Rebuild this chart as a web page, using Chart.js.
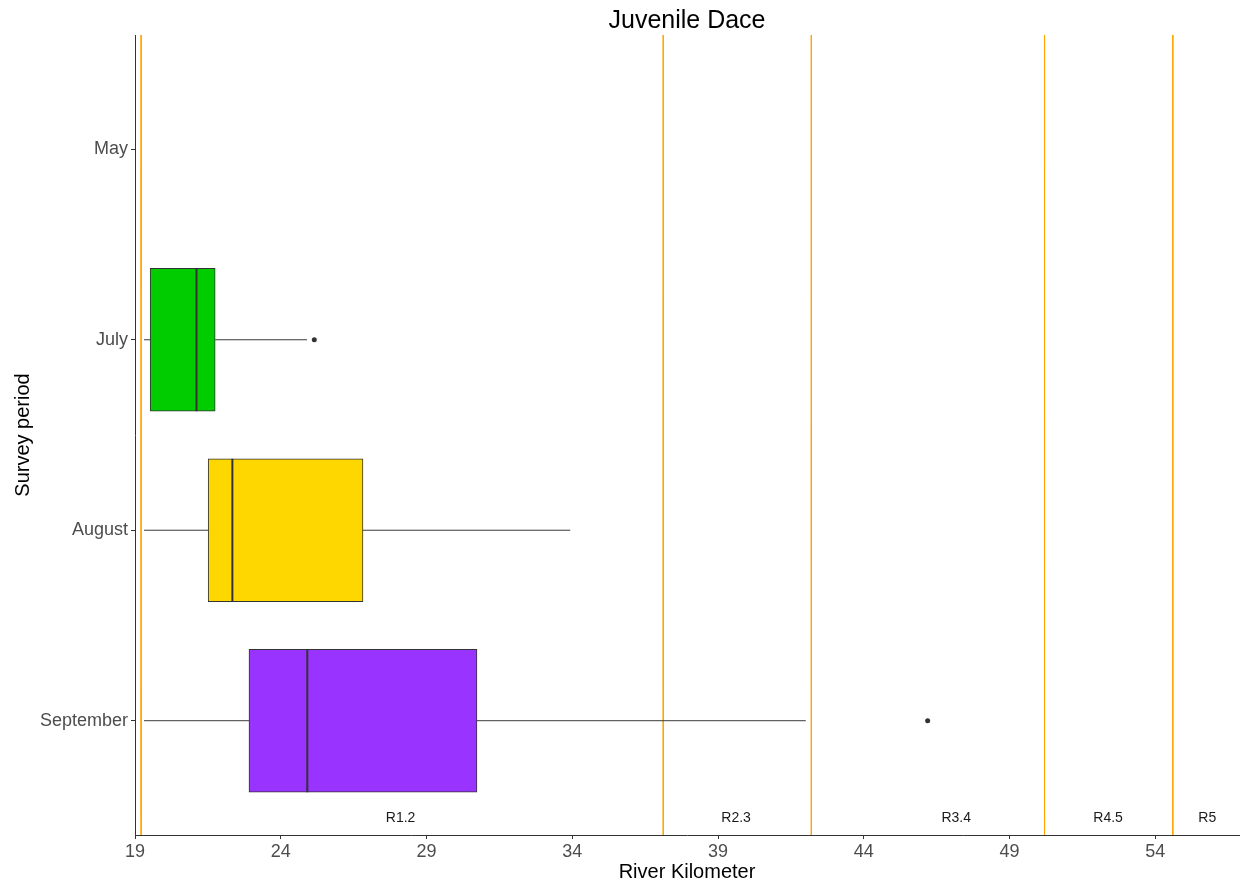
<!DOCTYPE html>
<html><head><meta charset="utf-8">
<script src="https://cdn.jsdelivr.net/npm/chart.js@4"></script>
<style>html,body{margin:0;padding:0;background:#fff;overflow:hidden}#wrap{width:1243px;height:883px;position:relative;overflow:hidden}canvas{display:block}</style>
</head><body><div id="wrap"><canvas id="c"></canvas></div>
<script>
// ---- data ----
const categories = ['May', 'July', 'August', 'September'];
const lowerWhisker = [null, 19.31, 19.31, 19.31];
const q1 = [null, 19.52, 21.51, 22.91];
const median = [null, 21.11, 22.34, 24.91];
const q3 = [null, 21.75, 26.82, 30.73];
const upperWhisker = [null, 24.90, 33.93, 42.01];
const outlierCategory = ['July', 'September'];
const outlierKm = [25.15, 46.19];
const boxColors = ['#cccccc', '#00CC00', '#FFD700', '#9933FF'];
const reachBoundaries = [19.21, 37.12, 42.20, 50.20, 54.60];
const reachLabels = ['R1.2', 'R2.3', 'R3.4', 'R4.5', 'R5'];
const reachLabelKm = [28.11, 39.62, 47.17, 52.38, 55.78];
const xTicks = [19, 24, 29, 34, 39, 44, 49, 54];

// ---- styles ----
const FONT = "'Liberation Sans', Arial, sans-serif";
const BOX_HALF = 0.375;      // half box height in category units
const Y_MIN = 0.4, Y_MAX = 4.6;
const X_MIN = 19, X_MAX = 56.87;

const datasets = [];
const catIdx = c => categories.indexOf(c) + 1;

// boxes
datasets.push({
  type: 'bar', indexAxis: 'y', order: 3,
  data: categories.map((c, i) => q1[i] == null ? null : { y: i + 1, x: [q1[i], q3[i]] }).filter(d => d),
  backgroundColor: categories.map((c, i) => boxColors[i]).filter((c, i) => q1[i] != null),
  borderColor: '#333333', borderWidth: 1, borderSkipped: false, barThickness: 143
});
// whiskers & medians
categories.forEach((c, i) => {
  if (q1[i] == null) return;
  const y = i + 1;
  const lineBase = { type: 'line', pointRadius: 0, fill: false, tension: 0 };
  datasets.push(Object.assign({}, lineBase, { order: 2, borderColor: '#3a3a3a', borderWidth: 1,
    data: [{ x: lowerWhisker[i], y }, { x: q1[i], y }] }));
  datasets.push(Object.assign({}, lineBase, { order: 2, borderColor: '#3a3a3a', borderWidth: 1,
    data: [{ x: q3[i], y }, { x: upperWhisker[i], y }] }));
  datasets.push(Object.assign({}, lineBase, { order: 0, borderColor: '#333333', borderWidth: 2,
    data: [{ x: median[i], y: y - BOX_HALF }, { x: median[i], y: y + BOX_HALF }] }));
});
// outliers
datasets.push({
  type: 'scatter', order: 1,
  data: outlierKm.map((v, i) => ({ x: v, y: catIdx(outlierCategory[i]) })),
  pointRadius: 2.5, pointBackgroundColor: '#333333', pointBorderWidth: 0
});
// reach boundaries
reachBoundaries.forEach(b => {
  datasets.push({ type: 'line', order: 10, pointRadius: 0, borderColor: '#FFA500', borderWidth: 1,
    data: [{ x: b, y: Y_MIN }, { x: b, y: Y_MAX }] });
});

const reachLabelPlugin = {
  id: 'reachLabels',
  afterDatasetsDraw(chart) {
    const { ctx, chartArea, scales } = chart;
    ctx.save();
    ctx.font = '14px ' + FONT;
    ctx.fillStyle = '#1a1a1a';
    ctx.textAlign = 'center';
    ctx.textBaseline = 'middle';
    reachLabels.forEach((t, i) => {
      ctx.fillText(t, scales.x.getPixelForValue(reachLabelKm[i]), chartArea.bottom - 17);
    });
    ctx.restore();
  }
};

new Chart(document.getElementById('c'), {
  type: 'bar',
  data: { datasets },
  plugins: [reachLabelPlugin],
  options: {
    responsive: true, maintainAspectRatio: false, animation: false,
    indexAxis: 'y',
    layout: { padding: 0 },
    plugins: {
      legend: { display: false }, tooltip: { enabled: false },
      title: { display: true, text: 'Juvenile Dace', fullSize: false, color: '#000',
        font: { family: FONT, size: 25, weight: 'normal' }, padding: { top: 6, bottom: -1 } }
    },
    scales: {
      x: {
        type: 'linear', position: 'bottom', min: X_MIN, max: X_MAX, offset: false, beginAtZero: false,
        afterBuildTicks: s => { s.ticks = xTicks.map(v => ({ value: v })); },
        afterFit: s => { s.height = 48; s.paddingLeft = 0; s.paddingRight = 0; },
        ticks: { color: '#4d4d4d', font: { family: FONT, size: 18 }, padding: 2, autoSkip: false, maxRotation: 0 },
        grid: { display: true, drawOnChartArea: false, drawTicks: true, tickLength: 4, tickColor: '#333333', offset: false },
        border: { display: true, color: '#333333', width: 1 },
        title: { display: true, text: 'River Kilometer', color: '#000', font: { family: FONT, size: 20 }, padding: { top: 0, bottom: -1 } }
      },
      y: {
        type: 'linear', position: 'left', min: Y_MIN, max: Y_MAX, reverse: true, offset: false, beginAtZero: false,
        afterBuildTicks: s => { s.ticks = categories.map((c, i) => ({ value: i + 1 })); },
        afterFit: s => { s.width = 135; s.paddingTop = 0; s.paddingBottom = 0; },
        ticks: { color: '#4d4d4d', font: { family: FONT, size: 18 }, padding: 3, autoSkip: false,
          callback: v => categories[Math.round(v) - 1] },
        grid: { display: true, drawOnChartArea: false, drawTicks: true, tickLength: 4, tickColor: '#333333', offset: false },
        border: { display: true, color: '#333333', width: 1 },
        title: { display: true, text: 'Survey period', color: '#000', font: { family: FONT, size: 20 }, padding: { top: 11, bottom: 0 } }
      }
    }
  }
});
</script>
</body></html>
